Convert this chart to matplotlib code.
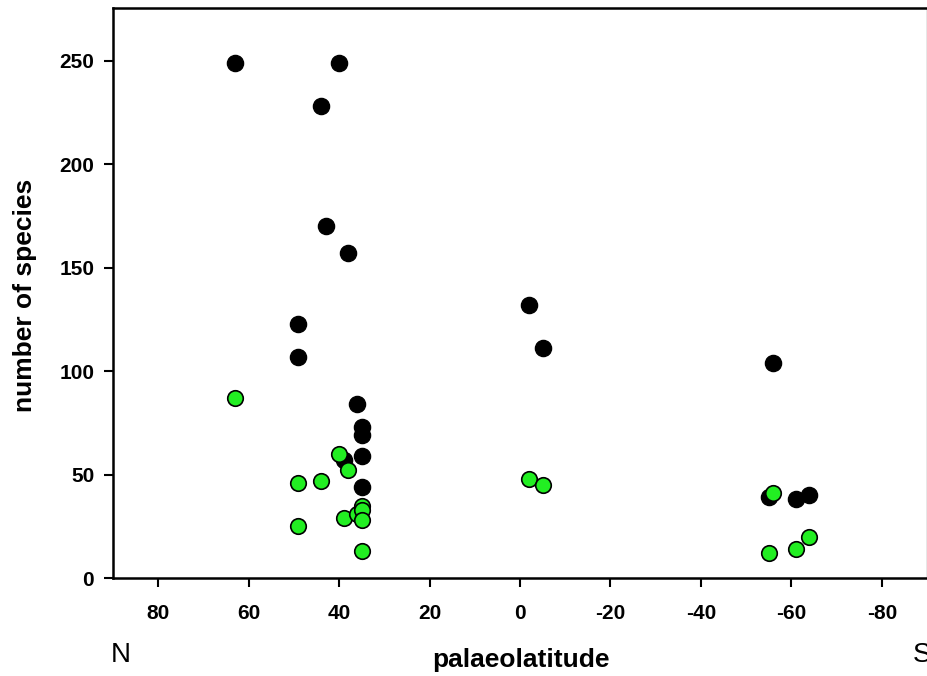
import matplotlib
matplotlib.use('Agg')
from matplotlib import pyplot as plt

plt.rcParams['font.family'] = ['Liberation Sans', 'DejaVu Sans']
plt.rcParams['axes.unicode_minus'] = False

# total species (black)
lat_all = [63, 40, 44, 43, 38, 49, 49, -2, -5, -56, 36, 35, 35, 35, 39, 35, -55, -61, -64]
sp_all = [249, 249, 228, 170, 157, 123, 107, 132, 111, 104, 84, 73, 69, 59, 57, 44, 39, 38, 40]

# subset (green)
lat_sub = [63, 40, 38, 49, 44, 49, 39, 36, 35, 35, 35, 35, -2, -5, -56, -55, -61, -64]
sp_sub = [87, 60, 52, 46, 47, 25, 29, 31, 35, 33, 28, 13, 48, 45, 41, 12, 14, 20]

xticks = [80, 60, 40, 20, 0, -20, -40, -60, -80]
yticks = [0, 50, 100, 150, 200, 250]

fig = plt.figure(figsize=(9.28, 6.76), dpi=100)
ax = fig.add_axes([113/928, 1 - 578/676, (927 - 113)/928, (578 - 8)/676])

ax.scatter(lat_all, sp_all, s=135, c='black', edgecolors='black', linewidths=1, zorder=3)
ax.scatter(lat_sub, sp_sub, s=125, c='#22ee22', edgecolors='black', linewidths=1.2, zorder=4)

ax.set_xlim(90, -90)
ax.set_ylim(0, 275.5)
ax.set_xticks(xticks)
ax.set_yticks(yticks)
ax.tick_params(direction='out', length=6.5, width=1.5, labelsize=15)
ax.tick_params(axis='y', pad=7)
ax.tick_params(axis='x', pad=12)
for lab in ax.get_xticklabels() + ax.get_yticklabels():
    lab.set_fontweight('bold')

for side in ['left', 'bottom', 'top']:
    ax.spines[side].set_linewidth(1.8)
ax.spines['right'].set_linewidth(1.0)
ax.spines['right'].set_color('#888888')

fig.text(25/928, 1 - 295/676, 'number of species', fontsize=19, fontweight='bold',
         rotation=90, ha='center', va='center')
fig.text(521/928, 1 - 660/676, 'palaeolatitude', fontsize=19, fontweight='bold',
         ha='center', va='center')
fig.text(121/928, 1 - 655/676, 'N', fontsize=20, ha='center', va='center')
# the S is partly cut off at the right edge, as in the original
fig.text(913/928, 1 - 655/676, 'S', fontsize=20, ha='left', va='center')

fig.savefig('out.png', dpi=100)
